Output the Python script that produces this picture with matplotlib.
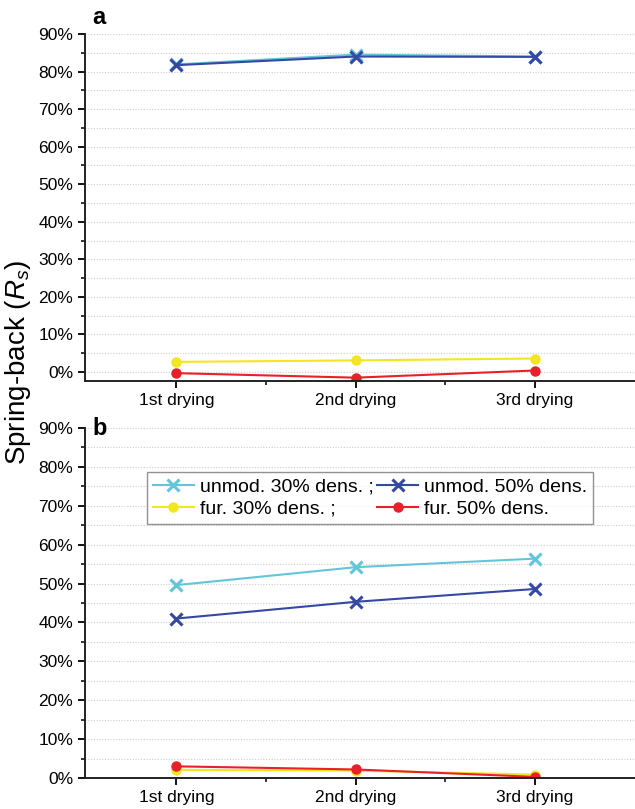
import matplotlib
matplotlib.use("Agg")
import matplotlib.pyplot as plt
from matplotlib.ticker import MultipleLocator, FixedLocator, FuncFormatter

plt.rcParams['font.family'] = ['Liberation Sans', 'DejaVu Sans']
plt.rcParams['mathtext.fontset'] = 'custom'
plt.rcParams['mathtext.it'] = 'Liberation Sans:italic'
plt.rcParams['mathtext.rm'] = 'Liberation Sans'

categories = ["1st drying", "2nd drying", "3rd drying"]
labels = ["unmod. 30% dens. ;", "unmod. 50% dens.", "fur. 30% dens. ;", "fur. 50% dens."]

# panel a values (%)
a_unmod30 = [81.9, 84.5, 84.0]
a_unmod50 = [81.7, 84.0, 83.9]
a_fur30 = [2.7, 3.1, 3.6]
a_fur50 = [-0.3, -1.5, 0.4]

# panel b values (%)
b_unmod30 = [49.6, 54.2, 56.4]
b_unmod50 = [41.0, 45.3, 48.6]
b_fur30 = [2.1, 1.9, 0.9]
b_fur50 = [3.0, 2.2, 0.3]

colors = {"unmod30": "#62C6D8", "unmod50": "#3548A4", "fur30": "#F2E620", "fur50": "#E8202A"}

fig = plt.figure(figsize=(6.35, 8.09), dpi=100)
ax_a = fig.add_axes([0.134, 0.529, 0.866, 0.429])
ax_b = fig.add_axes([0.134, 0.0383, 0.866, 0.4327])

x = [1, 2, 3]

def draw(ax, u30, u50, f30, f50, ylim):
    h = []
    h.append(ax.plot(x, u30, color=colors["unmod30"], lw=1.5, marker='x', ms=8, mew=2.2, label=labels[0])[0])
    h.append(ax.plot(x, u50, color=colors["unmod50"], lw=1.5, marker='x', ms=8, mew=2.2, label=labels[1])[0])
    h.append(ax.plot(x, f30, color=colors["fur30"], lw=1.5, marker='o', ms=6.5, label=labels[2])[0])
    h.append(ax.plot(x, f50, color=colors["fur50"], lw=1.5, marker='o', ms=6.5, label=labels[3])[0])
    ax.set_xlim(0.49, 3.56)
    ax.set_ylim(*ylim)
    ax.set_xticks(x)
    ax.set_xticklabels(categories, fontsize=12.5)
    ax.xaxis.set_minor_locator(FixedLocator([1.5, 2.5]))
    ax.yaxis.set_major_locator(MultipleLocator(10))
    ax.yaxis.set_minor_locator(MultipleLocator(5))
    ax.yaxis.set_major_formatter(FuncFormatter(lambda v, p: f"{v:.0f}%"))
    ax.tick_params(axis='y', labelsize=12.5, length=5, width=1.3, direction='out')
    ax.tick_params(axis='x', length=5, width=1.3, direction='out')
    ax.tick_params(which='minor', length=3, width=1.1, direction='out')
    ax.grid(True, which='both', axis='y', linestyle=(0, (1, 1.5)), color='#cccccc', lw=0.8)
    ax.set_axisbelow(True)
    for s in ['top', 'right']:
        ax.spines[s].set_visible(False)
    for s in ['left', 'bottom']:
        ax.spines[s].set_linewidth(1.4)
        ax.spines[s].set_color('#222222')
    return h

draw(ax_a, a_unmod30, a_unmod50, a_fur30, a_fur50, (-2.4, 90))
h = draw(ax_b, b_unmod30, b_unmod50, b_fur30, b_fur50, (0, 90))

leg = ax_b.legend([h[0], h[2], h[1], h[3]], [labels[0], labels[2], labels[1], labels[3]],
                  ncol=2, loc='upper left', bbox_to_anchor=(0.113, 0.873), fontsize=14,
                  frameon=True, fancybox=False, edgecolor='#777777', handlelength=2.1,
                  handletextpad=0.3, columnspacing=0.2, labelspacing=0.22, borderpad=0.3,
                  borderaxespad=0)
leg.get_frame().set_linewidth(1.0)

fig.text(92 / 635, 1 - 17 / 809, "a", fontsize=17, fontweight='bold', ha='left', va='center')
fig.text(92 / 635, 1 - 429 / 809, "b", fontsize=17, fontweight='bold', ha='left', va='center')
fig.text(18 / 635, 1 - 362 / 809, r"Spring-back ($\mathit{R}_{\mathit{s}}$)", fontsize=20,
         rotation=90, ha='center', va='center')

fig.savefig("out.png", dpi=100)
